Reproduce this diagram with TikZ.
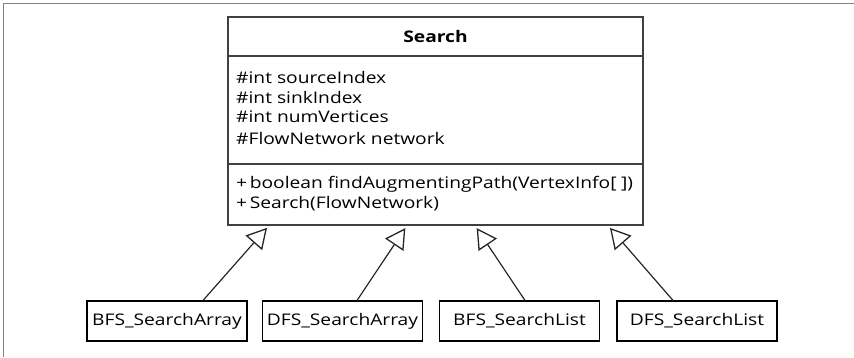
\documentclass[tikz,border=0pt]{standalone}
\usepackage{fontspec}
\setmainfont{Open Sans}[FakeStretch=1.2]
\usetikzlibrary{arrows.meta}
\begin{document}
\begin{tikzpicture}[x=1pt,y=-1pt,
  frame/.style={draw=black!50,line width=1.5pt},
  cls/.style={draw=black,line width=1.1pt,minimum width=160pt,minimum height=40pt,inner sep=0pt,font=\fontsize{16}{20}\selectfont},
  sect/.style={draw=black!75,line width=1.2pt},
  txt/.style={anchor=west,inner sep=0pt,font=\fontsize{16}{20}\selectfont},
  inh/.style={draw=black!85,line width=1.2pt,-{Triangle[open,length=20pt,width=22pt,line width=1.3pt]},shorten >=3pt}
]
\useasboundingbox (0,0) rectangle (854,357);
\draw[frame] (3.5,357) -- (3.5,3.5) -- (854,3.5);
% main class
\node[sect,minimum width=415pt,minimum height=208pt,inner sep=0pt] (search) at (435.5,121) {};
\draw[sect] (search.west |- 0,56) coordinate (d1) -- (search.east |- 0,56);
\draw[sect] (search.west |- 0,164) coordinate (d2) -- (search.east |- 0,164);
\node[font=\fontsize{16}{20}\selectfont\bfseries,inner sep=0pt] (title) at (435.5,36) {Search};
\node[txt] (a1) at (236,77) {\#int sourceIndex};
\node[txt] (a2) at (236,97) {\#int sinkIndex};
\node[txt] (a3) at (236,117) {\#int numVertices};
\node[txt] (a4) at (236,138) {\#FlowNetwork network};
\node[txt] (m1) at (236,184) {+\,boolean findAugmentingPath(VertexInfo[\;])};
\node[txt] (m2) at (236,204) {+\,Search(FlowNetwork)};
% subclasses
\node[cls] (bfsa) at (167,321) {BFS\_SearchArray};
\node[cls] (dfsa) at (342.5,321) {DFS\_SearchArray};
\node[cls] (bfsl) at (519.5,321) {BFS\_SearchList};
\node[cls] (dfsl) at (697,321) {DFS\_SearchList};
\draw[inh] ([xshift=36pt]bfsa.north) -- ([xshift=-166.5pt]search.south);
\draw[inh] ([xshift=14.5pt]dfsa.north) -- ([xshift=-28.5pt]search.south);
\draw[inh] ([xshift=5.5pt]bfsl.north) -- ([xshift=39.5pt]search.south);
\draw[inh] ([xshift=-24pt]dfsl.north) -- ([xshift=172.5pt]search.south);
\end{tikzpicture}
\end{document}
